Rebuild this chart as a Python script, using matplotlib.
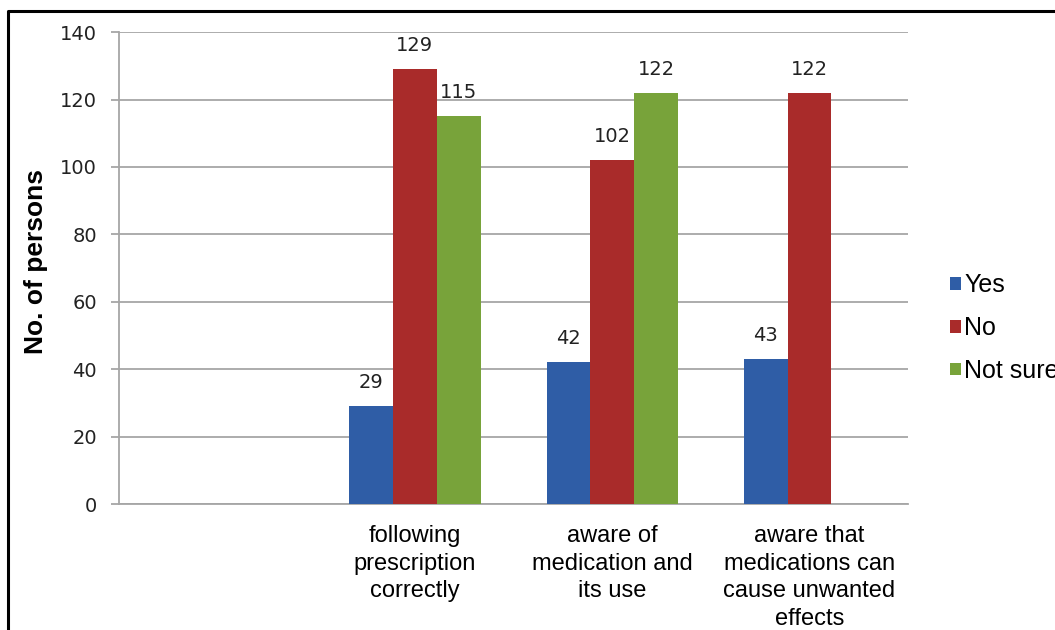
import matplotlib.pyplot as plt
from matplotlib.lines import Line2D
import numpy as np

# Survey responses per statement (first slot left empty)
categories = ['', 'following\nprescription\ncorrectly', 'aware of\nmedication and\nits use',
              'aware that\nmedications can\ncause unwanted\neffects']
series = ['Yes', 'No', 'Not sure']
yes = [np.nan, 29, 42, 43]
no = [np.nan, 129, 102, 122]
not_sure = [np.nan, 115, 122, np.nan]
colors = ['#2F5DA6', '#A92B2A', '#78A33A']

fig = plt.figure(figsize=(10.55, 6.3), dpi=100)
ax = fig.add_axes([0.1128, 0.2, 0.748, 0.749])

x = np.arange(len(categories))
width = 0.222
num_font = 'DejaVu Sans'
txt_font = 'Liberation Sans'

for i, (name, vals, c) in enumerate(zip(series, [yes, no, not_sure], colors)):
    pos = x + (i - 1) * width
    ax.bar(pos, vals, width, color=c, label=name, zorder=3)
    for xp, v in zip(pos, vals):
        if np.isnan(v):
            continue
        ax.annotate(f'{int(v)}', (xp, v), xytext=(0, 17), textcoords='offset points',
                    ha='center', va='center', fontsize=14, family=num_font, color='#222222')

ax.set_xlim(-0.5, len(categories) - 0.5)
ax.set_ylim(0, 140)
ax.set_yticks(range(0, 141, 20))
ax.yaxis.grid(True, color='#A6A6A6', linewidth=1.3, zorder=0)
ax.set_xticks(x)
ax.set_xticklabels(categories, fontsize=17, family=txt_font, linespacing=1.34)
ax.tick_params(axis='x', length=0, pad=15)
ax.tick_params(axis='y', length=6, width=1.3, color='#A6A6A6', pad=10, labelsize=14)
for lab in ax.get_yticklabels():
    lab.set_family(num_font)
    lab.set_color('#222222')

for side in ['top', 'right']:
    ax.spines[side].set_visible(False)
for side in ['left', 'bottom']:
    ax.spines[side].set_color('#A6A6A6')
    ax.spines[side].set_linewidth(1.3)

ax.set_ylabel('No. of persons', fontsize=19, fontweight='bold', family=txt_font)
ax.yaxis.set_label_coords(-0.09, 0.513)

fig.legend(loc='upper left', bbox_to_anchor=(0.9005, 0.566), frameon=False,
           prop={'family': txt_font, 'size': 18}, handlelength=0.42, handleheight=0.42,
           handletextpad=0.15, labelspacing=0.75, borderaxespad=0, borderpad=0)

# Frame around the figure (left and top edges)
fig.add_artist(Line2D([8 / 1055, 8 / 1055, 1], [0, 1 - 11 / 630, 1 - 11 / 630],
                      transform=fig.transFigure, color='black', linewidth=2.2))

fig.savefig('out.png', dpi=100)
